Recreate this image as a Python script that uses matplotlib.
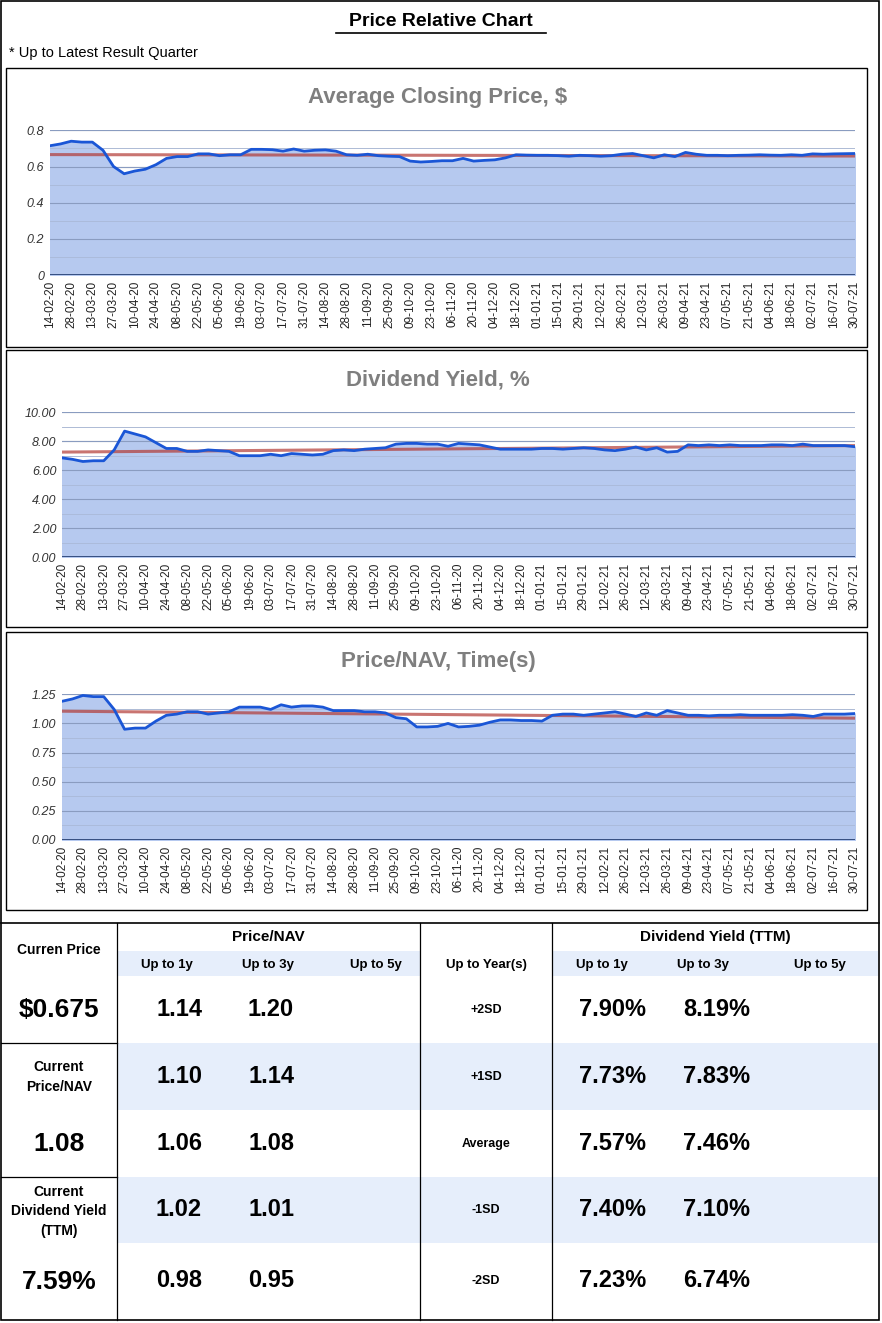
import numpy as np
import pandas as pd
import matplotlib
matplotlib.use("Agg")
import matplotlib.pyplot as plt
from matplotlib.patches import Rectangle

plt.rcParams['font.family'] = ['Liberation Sans Narrow', 'Liberation Sans', 'DejaVu Sans']

W, H = 882, 1323

# ---------------- data ----------------
dates = pd.date_range("2020-02-14", "2021-07-30", freq="7D")
tick_labels = [d.strftime("%d-%m-%y") for d in dates[::2]]

price = [0.715, 0.725, 0.74, 0.735, 0.735, 0.69, 0.60, 0.56, 0.575, 0.585,
         0.61, 0.645, 0.655, 0.655, 0.67, 0.67, 0.66, 0.665, 0.665, 0.695,
         0.695, 0.693, 0.685, 0.697, 0.685, 0.69, 0.692, 0.685, 0.665, 0.662,
         0.668, 0.66, 0.657, 0.655, 0.63, 0.625, 0.628, 0.632, 0.632, 0.645,
         0.63, 0.634, 0.637, 0.648, 0.665, 0.663, 0.662, 0.662, 0.66, 0.657,
         0.662, 0.66, 0.657, 0.66, 0.668, 0.672, 0.66, 0.648, 0.665, 0.655,
         0.678, 0.668, 0.662, 0.662, 0.66, 0.662, 0.663, 0.665, 0.663, 0.662,
         0.665, 0.662, 0.67, 0.668, 0.67, 0.671, 0.672]
price_trend = [0.666, 0.658]

dy = [6.85, 6.75, 6.6, 6.65, 6.65, 7.4, 8.7, 8.5, 8.3, 7.9,
      7.5, 7.5, 7.3, 7.3, 7.4, 7.35, 7.3, 7.0, 7.0, 7.0,
      7.1, 7.0, 7.15, 7.1, 7.05, 7.1, 7.35, 7.4, 7.35, 7.45,
      7.5, 7.55, 7.8, 7.85, 7.85, 7.8, 7.8, 7.65, 7.85, 7.8,
      7.75, 7.6, 7.45, 7.45, 7.45, 7.45, 7.5, 7.5, 7.45, 7.5,
      7.55, 7.5, 7.4, 7.35, 7.45, 7.6, 7.4, 7.55, 7.25, 7.3,
      7.75, 7.7, 7.75, 7.7, 7.75, 7.7, 7.7, 7.7, 7.75, 7.75,
      7.7, 7.8, 7.7, 7.7, 7.7, 7.7, 7.62]
dy_trend = [7.25, 7.7]

pnav = [1.19, 1.21, 1.24, 1.23, 1.23, 1.12, 0.95, 0.96, 0.96, 1.02,
        1.07, 1.08, 1.10, 1.10, 1.08, 1.09, 1.10, 1.14, 1.14, 1.14,
        1.12, 1.16, 1.14, 1.15, 1.15, 1.14, 1.11, 1.11, 1.11, 1.10,
        1.10, 1.09, 1.05, 1.04, 0.97, 0.97, 0.975, 1.0, 0.97, 0.975,
        0.985, 1.01, 1.03, 1.03, 1.025, 1.025, 1.02, 1.07, 1.08, 1.08,
        1.07, 1.08, 1.09, 1.10, 1.08, 1.06, 1.09, 1.07, 1.11, 1.09,
        1.07, 1.07, 1.065, 1.07, 1.07, 1.075, 1.07, 1.07, 1.07, 1.07,
        1.075, 1.07, 1.06, 1.08, 1.08, 1.08, 1.085]
pnav_trend = [1.105, 1.045]

row_labels = ["+2SD", "+1SD", "Average", "-1SD", "-2SD"]
pnav_1y = ["1.14", "1.10", "1.06", "1.02", "0.98"]
pnav_3y = ["1.20", "1.14", "1.08", "1.01", "0.95"]
dy_1y = ["7.90%", "7.73%", "7.57%", "7.40%", "7.23%"]
dy_3y = ["8.19%", "7.83%", "7.46%", "7.10%", "6.74%"]
left_cells = [("Curren Price", 10), ("$0.675", 19), ("Current\nPrice/NAV", 10),
              ("1.08", 19), ("Current\nDividend Yield\n(TTM)", 10), ("7.59%", 19)]

fig = plt.figure(figsize=(W / 100, H / 100), dpi=100)
bg = fig.add_axes([0, 0, 1, 1])
bg.set_xlim(0, W)
bg.set_ylim(H, 0)
bg.axis("off")


def px_axes(x0, y0, x1, y1):
    return fig.add_axes([x0 / W, 1 - y1 / H, (x1 - x0) / W, (y1 - y0) / H])


# outer frame and title
bg.add_patch(Rectangle((1, 1), W - 4, H - 4, fill=False, lw=1.2, ec="black"))
bg.text(441, 22, "Price Relative Chart", ha="center", va="center", fontsize=14, fontweight="bold")
bg.plot([336, 546], [33, 33], color="black", lw=1.2)
bg.text(9, 53, "* Up to Latest Result Quarter", ha="left", va="center", fontsize=10.5)

charts = [
    ("Average Closing Price, $", price, price_trend, (68, 347), (130, 275), 50, 0.8, 0.2, "{:.1f}", 0.1),
    ("Dividend Yield, %", dy, dy_trend, (350, 627), (412, 557), 62, 10.0, 2.0, "{:.2f}", 1.0),
    ("Price/NAV, Time(s)", pnav, pnav_trend, (632, 910), (694, 840), 62, 1.25, 0.25, "{:.2f}", 0.125),
]

x = np.arange(len(dates))
for title, vals, trend, (by0, by1), (py0, py1), px0, ymax, step, fmt, minor in charts:
    bg.add_patch(Rectangle((6, by0), 861, by1 - by0, fill=False, lw=1.0, ec="black"))
    bg.text(438, by0 + 30, title, ha="center", va="center", fontsize=16,
            fontweight="bold", color="#7f7f7f")
    ax = px_axes(px0, py0, 855, py1)
    ax.fill_between(x, 0, vals, color="#b6c9ef", zorder=1)
    for g in np.arange(minor, ymax + 1e-9, minor):
        major = abs(g / step - round(g / step)) < 1e-6
        ax.axhline(g, color="#8a9cc0" if major else "#a9b9d8", lw=0.8 if major else 0.6, zorder=2)
        ax.axhline(g, color="#c8c8c8", lw=0.8 if major else 0.6, zorder=0)
    ax.plot(x, vals, color="#1a56d6", lw=2.0, zorder=4)
    ax.plot([x[0], x[-1]], trend, color="#b23a35", lw=2.2, alpha=0.7, zorder=3)
    ax.axhline(0, color="#1f3a6e", lw=1.2, zorder=5)
    ax.set_xlim(x[0], x[-1])
    ax.set_ylim(0, ymax + minor * 0.02)
    ticks = np.arange(0, ymax + 1e-9, step)
    ax.set_yticks(ticks)
    ax.set_yticklabels([fmt.format(t) if t != 0 or fmt != "{:.1f}" else "0" for t in ticks],
                       fontsize=9, style="italic", color="#333333")
    ax.set_xticks(x[::2])
    ax.set_xticklabels(tick_labels, rotation=90, fontsize=8.5, color="#222222")
    ax.tick_params(length=0, pad=4)
    for s in ax.spines.values():
        s.set_visible(False)

# ---------------- table ----------------
cols = [117, 420, 552]
sub_price = [167, 268, 369]
sub_dy = [602, 703, 820]
row_y = [977, 1043, 1110, 1177, 1243, 1318]
bg.plot([1, W - 3], [923, 923], color="black", lw=1.2)
bg.add_patch(Rectangle((117, 951), 303, 25, color="#e6eefb", lw=0))
bg.add_patch(Rectangle((552, 951), 326, 25, color="#e6eefb", lw=0))
for r in (1, 3):
    bg.add_patch(Rectangle((117, row_y[r]), 761, row_y[r + 1] - row_y[r], color="#e6eefb", lw=0))
for cx in cols:
    bg.plot([cx, cx], [923, 1320], color="black", lw=0.9)
for yy in (1043, 1177):
    bg.plot([1, 117], [yy, yy], color="black", lw=0.9)

bg.text(268, 937, "Price/NAV", ha="center", va="center", fontsize=11, fontweight="bold")
bg.text(715, 937, "Dividend Yield (TTM)", ha="center", va="center", fontsize=11, fontweight="bold")
for i, lab in enumerate(["Up to 1y", "Up to 3y", "Up to 5y"]):
    bg.text(sub_price[i] + (0 if i < 2 else 7), 965, lab, ha="center", va="center",
            fontsize=9.5, fontweight="bold")
    bg.text(sub_dy[i], 965, lab, ha="center", va="center", fontsize=9.5, fontweight="bold")
bg.text(486, 965, "Up to Year(s)", ha="center", va="center", fontsize=9.5, fontweight="bold")

for r in range(5):
    cy = (row_y[r] + row_y[r + 1]) / 2
    bg.text(sub_price[0] + 12, cy, pnav_1y[r], ha="center", va="center", fontsize=17, fontweight="bold")
    bg.text(sub_price[1] + 3, cy, pnav_3y[r], ha="center", va="center", fontsize=17, fontweight="bold")
    bg.text(486, cy, row_labels[r], ha="center", va="center", fontsize=9, fontweight="bold")
    bg.text(613, cy, dy_1y[r], ha="center", va="center", fontsize=17, fontweight="bold")
    bg.text(717, cy, dy_3y[r], ha="center", va="center", fontsize=17, fontweight="bold")

left_y = [950, 1010, 1077, 1144, 1211, 1282]
for (txt, fs), cy in zip(left_cells, left_y):
    bg.text(59, cy, txt, ha="center", va="center", fontsize=fs, fontweight="bold", linespacing=1.5)

fig.savefig("out.png", dpi=100)
